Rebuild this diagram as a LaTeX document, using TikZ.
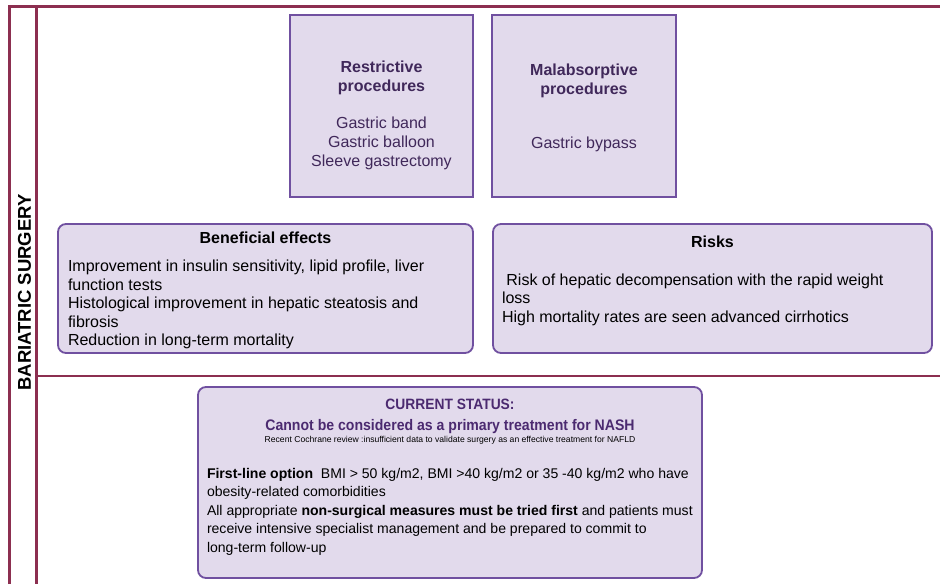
\documentclass[tikz,border=0pt]{standalone}
\usepackage{fontspec}
\setmainfont{Liberation Sans}
\newfontfamily\narrowfont[FakeStretch=0.92]{Liberation Sans}
\definecolor{framec}{HTML}{8C2F50}
\definecolor{boxfill}{HTML}{E2DAEC}
\definecolor{boxline}{HTML}{7050A0}
\definecolor{purpletext}{HTML}{40285A}
\definecolor{titlepurple}{HTML}{4B2A70}
\tikzset{
  frameline/.style={draw=framec, line width=2.2pt},
  sqbox/.style={draw=boxline, fill=boxfill, line width=1.8pt, inner sep=0pt},
  rdbox/.style={draw=boxline, fill=boxfill, line width=1.8pt, rounded corners=8pt, inner sep=0pt},
  txt/.style={inner sep=0pt, outer sep=0pt},
}
\begin{document}
\begin{tikzpicture}[x=1pt,y=-1pt]
\useasboundingbox[fill=white] (0,0) rectangle (940,584);
% frame
\draw[frameline] (9.5,584) -- (9.5,6.5) -- (940,6.5);
\draw[frameline] (36.5,6.5) -- (36.5,584);
\draw[frameline] (36.5,376) -- (940,376);
\node[txt, rotate=90, font=\bfseries\fontsize{18.5}{18.5}\selectfont] (side) at (24.5,292.5) {BARIATRIC SURGERY};
% boxes
\node[sqbox, minimum width=183pt, minimum height=182pt] (restr) at (381.5,106) {};
\node[sqbox, minimum width=184pt, minimum height=182pt] (malab) at (584,106) {};
\node[rdbox, minimum width=415pt, minimum height=129pt] (benef) at (265.5,288.5) {};
\node[rdbox, minimum width=439pt, minimum height=129pt] (risks) at (712.5,288.5) {};
\node[rdbox, minimum width=504pt, minimum height=191pt] (status) at (450,482.5) {};
% restrictive
\node[txt, anchor=north, align=center, text=purpletext, font=\fontsize{16}{19}\selectfont] (restrtxt) at (381.5,60.5)
  {\textbf{Restrictive}\\\textbf{procedures}\\[18pt]Gastric band\\Gastric balloon\\Sleeve gastrectomy};
\node[txt, anchor=north, align=center, text=purpletext, font=\fontsize{16}{19}\selectfont] (malabtxt) at (584,63.5)
  {\textbf{Malabsorptive}\\\textbf{procedures}\\[35pt]Gastric bypass};
% beneficial
\node[txt, anchor=base, font=\bfseries\fontsize{16}{19}\selectfont] (beneftitle) at (265.5,243) {Beneficial effects};
\node[txt, anchor=north west, align=left, font=\fontsize{16}{18.5}\selectfont] (beneftxt) at (68,260.2)
  {Improvement in insulin sensitivity, lipid profile, liver\\function tests\\Histological improvement in hepatic steatosis and\\fibrosis\\Reduction in long-term mortality};
% risks
\node[txt, anchor=base, font=\bfseries\fontsize{16}{19}\selectfont] (riskstitle) at (712.5,247) {Risks};
\node[txt, anchor=north west, align=left, font=\fontsize{16}{18.5}\selectfont] (riskstxt) at (502,273.5)
  {\hspace*{4.4pt}Risk of hepatic decompensation with the rapid weight\\loss\\High mortality rates are seen advanced cirrhotics};
% status
\node[txt, anchor=base, text=titlepurple, font=\narrowfont\bfseries\fontsize{15}{15}\selectfont] (stattitle) at (450,409) {CURRENT STATUS:};
\node[txt, anchor=base, text=titlepurple, font=\narrowfont\bfseries\fontsize{15.3}{15}\selectfont] (statsub) at (450,430) {Cannot be considered as a primary treatment for NASH};
\node[txt, anchor=base, font=\fontsize{8.6}{9}\selectfont] (statnote) at (450,442)
  {Recent Cochrane review :insufficient data to validate surgery as an effective treatment for NAFLD};
\node[txt, anchor=north west, align=left, font=\fontsize{14.05}{18.5}\selectfont] (stattxt) at (207,467.9)
  {\textbf{First-line option}\ \ BMI > 50 kg/m2, BMI >40 kg/m2 or 35 -40 kg/m2 who have\\obesity-related comorbidities\\All appropriate \textbf{non-surgical measures must be tried first} and patients must\\receive intensive specialist management and be prepared to commit to\\long-term follow-up};
\end{tikzpicture}
\end{document}
